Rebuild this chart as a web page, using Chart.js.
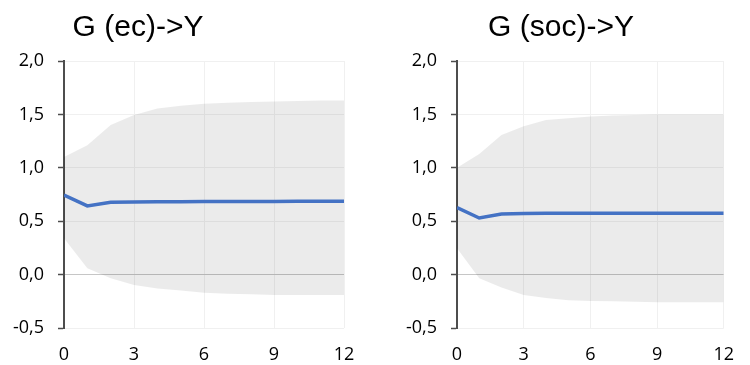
<!DOCTYPE html>
<html>
<head>
<meta charset="utf-8">
<script src="https://cdn.jsdelivr.net/npm/chart.js@4"></script>
<style>
  html, body { margin: 0; padding: 0; background: #ffffff; }
  body { width: 750px; height: 365px; position: relative; overflow: hidden; }
  .box { position: absolute; top: 0; width: 375px; height: 365px; }
  #box1 { left: 0; }
  #box2 { left: 375px; }
</style>
</head>
<body>
<div class="box" id="box1"><canvas id="c1" width="375" height="365"></canvas></div>
<div class="box" id="box2"><canvas id="c2" width="375" height="365"></canvas></div>
<script>
// ---- data ----
const steps = [0, 1, 2, 3, 4, 5, 6, 7, 8, 9, 10, 11, 12];
const xTicks = [0, 3, 6, 9, 12];
const yTicks = [-0.5, 0.0, 0.5, 1.0, 1.5, 2.0];

const ecTitle = "G (ec)->Y";
const ecResponse = [0.745, 0.643, 0.677, 0.680, 0.682, 0.683, 0.684, 0.685, 0.685, 0.685, 0.686, 0.686, 0.686];
const ecUpper    = [1.10, 1.21, 1.40, 1.495, 1.555, 1.58, 1.60, 1.61, 1.615, 1.62, 1.625, 1.63, 1.63];
const ecLower    = [0.34, 0.06, -0.035, -0.097, -0.13, -0.15, -0.17, -0.18, -0.185, -0.19, -0.19, -0.19, -0.19];

const socTitle = "G (soc)->Y";
const socResponse = [0.627, 0.53, 0.567, 0.572, 0.574, 0.574, 0.574, 0.574, 0.574, 0.574, 0.574, 0.574, 0.574];
const socUpper    = [1.00, 1.13, 1.307, 1.39, 1.448, 1.465, 1.48, 1.49, 1.495, 1.50, 1.50, 1.50, 1.50];
const socLower    = [0.246, -0.035, -0.12, -0.19, -0.22, -0.24, -0.247, -0.25, -0.255, -0.26, -0.26, -0.26, -0.26];

// ---- drawing ----
const tickFont = { family: '"Open Sans", sans-serif', size: 18 };

function pts(values) {
  return steps.map((s, i) => ({ x: s, y: values[i] }));
}

const titlePlugin = {
  id: 'fixedTitle',
  afterDraw(chart, args, opts) {
    const ctx = chart.ctx;
    ctx.save();
    ctx.font = '30px "Liberation Sans", Arial, sans-serif';
    ctx.fillStyle = '#000000';
    ctx.textAlign = 'center';
    ctx.textBaseline = 'middle';
    ctx.fillText(opts.text, opts.x, opts.y);
    ctx.restore();
  }
};

function makeChart(id, title, titleX, response, upper, lower, leftWidth, rightPad) {
  return new Chart(document.getElementById(id), {
    type: 'line',
    data: {
      datasets: [
        {
          label: 'response',
          data: pts(response),
          borderColor: '#4472c4',
          borderWidth: 3.5,
          pointRadius: 0,
          fill: false,
          tension: 0,
          order: 0
        },
        {
          label: 'upper',
          data: pts(upper),
          borderWidth: 0,
          borderColor: 'rgba(0,0,0,0)',
          backgroundColor: 'rgba(0,0,0,0.08)',
          pointRadius: 0,
          fill: '+1',
          tension: 0,
          order: 1
        },
        {
          label: 'lower',
          data: pts(lower),
          borderWidth: 0,
          borderColor: 'rgba(0,0,0,0)',
          pointRadius: 0,
          fill: false,
          tension: 0,
          order: 2
        }
      ]
    },
    options: {
      responsive: false,
      animation: false,
      layout: { padding: { top: 61, right: rightPad, left: 0, bottom: 0 } },
      plugins: {
        legend: { display: false },
        tooltip: { enabled: false },
        fixedTitle: { text: title, x: titleX, y: 28 }
      },
      scales: {
        x: {
          type: 'linear',
          min: 0,
          max: 12,
          afterBuildTicks(scale) { scale.ticks = xTicks.map(v => ({ value: v })); },
          afterFit(scale) { scale.height = 37; },
          border: { display: false },
          grid: {
            color: (c) => c.tick && c.tick.value === 0 ? 'rgba(0,0,0,0)' : '#f0f0f0',
            lineWidth: 1,
            drawTicks: false
          },
          ticks: {
            font: tickFont,
            color: '#000000',
            padding: 16,
            maxRotation: 0
          }
        },
        y: {
          min: -0.5,
          max: 2.0,
          afterBuildTicks(scale) { scale.ticks = yTicks.map(v => ({ value: v })); },
          afterFit(scale) { scale.width = leftWidth; },
          border: { display: true, color: '#4d4d4d', width: 2 },
          grid: {
            color: (c) => c.tick && c.tick.value === 0 ? '#c6c6c6' : '#f0f0f0',
            lineWidth: 1,
            drawTicks: true,
            tickLength: 6,
            tickColor: '#4d4d4d',
            tickWidth: 1.5
          },
          ticks: {
            font: tickFont,
            color: '#000000',
            padding: 14,
            callback: (v) => Number(v).toFixed(1).replace('.', ',')
          }
        }
      }
    },
    plugins: [titlePlugin]
  });
}

makeChart('c1', ecTitle, 138, ecResponse, ecUpper, ecLower, 64, 31);
makeChart('c2', socTitle, 186, socResponse, socUpper, socLower, 82, 13);
</script>
</body>
</html>
